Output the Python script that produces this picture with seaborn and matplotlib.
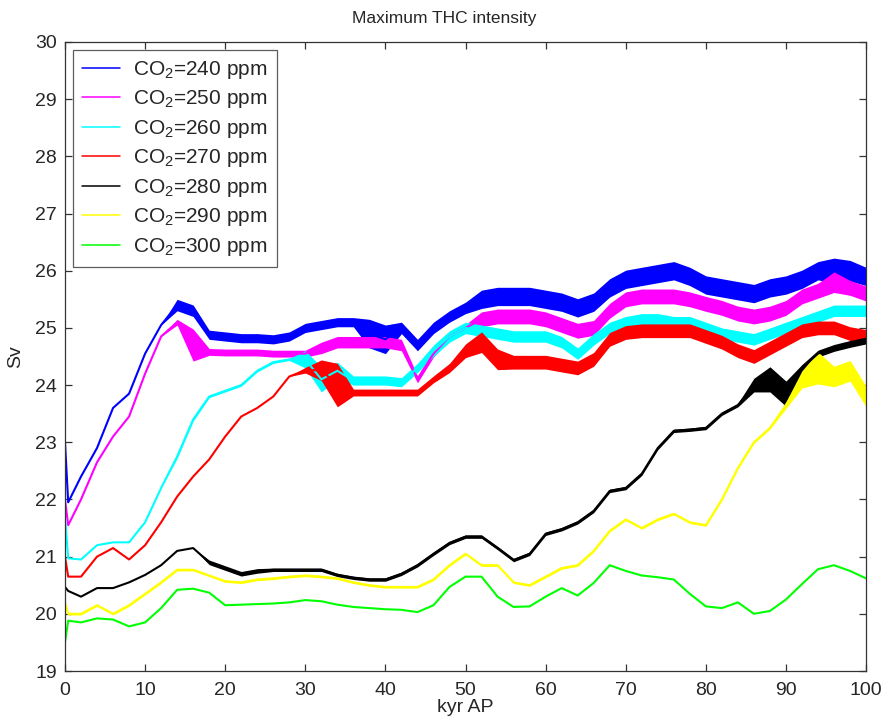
import numpy as np
import pandas as pd
import matplotlib
matplotlib.use("Agg")
import matplotlib.pyplot as plt
import seaborn as sns

# Time axis (kyr after present)
kyr = [0, 0.4] + list(range(2, 101, 2))

# Maximum THC intensity (Sv) for each CO2 level
co2_levels = [240, 250, 260, 270, 280, 290, 300]

sv_240 = [23.0, 21.95, 22.4, 22.9, 23.6, 23.85, 24.55, 25.05, 25.4, 25.3, 24.88,
          24.85, 24.82, 24.82, 24.8, 24.85, 25.0, 25.05, 25.1, 25.1, 24.9,
          24.8, 25.0, 24.7, 25.0, 25.2, 25.35, 25.5, 25.55, 25.55, 25.55,
          25.5, 25.45, 25.35, 25.45, 25.7, 25.85, 25.9, 25.95, 26.0, 25.9,
          25.75, 25.7, 25.65, 25.6, 25.7, 25.75, 25.85, 26.0, 26.0, 26.0, 25.9]
sv_250 = [22.0, 21.55, 22.0, 22.65, 23.1, 23.45, 24.2, 24.85, 25.1, 24.7, 24.58,
          24.57, 24.57, 24.57, 24.55, 24.55, 24.55, 24.65, 24.75, 24.75, 24.75,
          24.75, 24.7, 24.1, 24.55, 24.85, 25.0, 25.15, 25.2, 25.2, 25.2,
          25.15, 25.05, 24.95, 25.0, 25.3, 25.5, 25.55, 25.55, 25.55, 25.5,
          25.42, 25.35, 25.25, 25.2, 25.25, 25.35, 25.55, 25.65, 25.8, 25.7, 25.6]
sv_260 = [21.7, 20.97, 20.95, 21.2, 21.25, 21.25, 21.6, 22.2, 22.75, 23.4, 23.8,
          23.9, 24.0, 24.25, 24.4, 24.45, 24.45, 24.1, 24.25, 24.08, 24.08,
          24.08, 24.05, 24.3, 24.6, 24.85, 25.0, 24.95, 24.9, 24.85, 24.85,
          24.85, 24.75, 24.55, 24.8, 25.0, 25.1, 25.15, 25.15, 25.1, 25.1,
          25.0, 24.9, 24.85, 24.8, 24.9, 25.0, 25.1, 25.2, 25.3, 25.3, 25.3]
sv_270 = [21.0, 20.65, 20.65, 21.0, 21.15, 20.95, 21.2, 21.6, 22.05, 22.4, 22.7,
          23.1, 23.45, 23.6, 23.8, 24.15, 24.26, 24.26, 24.0, 23.87, 23.87,
          23.87, 23.87, 23.87, 24.1, 24.3, 24.6, 24.75, 24.45, 24.4, 24.4,
          24.4, 24.35, 24.3, 24.45, 24.8, 24.92, 24.95, 24.95, 24.95, 24.95,
          24.85, 24.75, 24.6, 24.5, 24.65, 24.8, 24.95, 25.0, 25.0, 24.9, 24.85]
sv_280 = [20.47, 20.4, 20.3, 20.45, 20.45, 20.55, 20.68, 20.85, 21.1, 21.15, 20.9,
          20.8, 20.7, 20.75, 20.77, 20.77, 20.77, 20.77, 20.68, 20.63, 20.6,
          20.6, 20.7, 20.85, 21.05, 21.24, 21.35, 21.35, 21.15, 20.94, 21.05,
          21.4, 21.48, 21.6, 21.8, 22.15, 22.2, 22.45, 22.9, 23.2, 23.22,
          23.25, 23.5, 23.65, 24.0, 24.1, 23.85, 24.3, 24.55, 24.65, 24.72, 24.78]
sv_290 = [20.2, 20.0, 20.0, 20.15, 20.0, 20.15, 20.35, 20.55, 20.77, 20.77, 20.67,
          20.57, 20.55, 20.6, 20.62, 20.65, 20.67, 20.65, 20.62, 20.55, 20.5,
          20.47, 20.47, 20.47, 20.6, 20.85, 21.05, 20.85, 20.85, 20.55, 20.5,
          20.65, 20.8, 20.85, 21.1, 21.45, 21.65, 21.5, 21.65, 21.75, 21.6,
          21.55, 22.0, 22.55, 23.0, 23.25, 23.65, 24.1, 24.3, 24.15, 24.25, 23.8]
sv_300 = [19.5, 19.88, 19.85, 19.92, 19.9, 19.78, 19.85, 20.1, 20.42, 20.44, 20.37,
          20.15, 20.16, 20.17, 20.18, 20.2, 20.24, 20.22, 20.16, 20.12, 20.1,
          20.08, 20.07, 20.03, 20.15, 20.47, 20.65, 20.65, 20.3, 20.12, 20.13,
          20.3, 20.45, 20.32, 20.54, 20.85, 20.75, 20.67, 20.64, 20.6, 20.35,
          20.13, 20.1, 20.2, 20.0, 20.05, 20.25, 20.52, 20.78, 20.85, 20.75, 20.62]

# Half-width of the short-term flicker around each curve (Sv)
spread_240 = [0.0] * 8 + [0.1] * 2 + [0.08] * 10 + [0.25] * 2 + [0.1] * 5 + [0.16] * 22 + [0.22, 0.18, 0.16]
spread_250 = [0.0] * 8 + [0.05, 0.28] + [0.06] * 7 + [0.1] * 6 + [0.06] * 4 + [0.13] * 22 + [0.18, 0.13, 0.13]
spread_260 = [0.0] * 8 + [0.03] * 2 + [0.02] * 6 + [0.15, 0.22, 0.15] + [0.08] * 5 + [0.1] * 28
spread_270 = [0.0] * 16 + [0.05, 0.18, 0.38] + [0.06] * 6 + [0.08, 0.12, 0.18, 0.18] + [0.12] * 23
spread_280 = [0.0] * 10 + [0.04] * 4 + [0.03] * 30 + [0.12, 0.22, 0.22] + [0.06] * 5
spread_290 = [0.02] * 46 + [0.06, 0.15, 0.28, 0.18, 0.18, 0.18]
spread_300 = [0.0] * 52

colors = ["#0000ff", "#ff00ff", "#00ffff", "#ff0000", "#000000", "#ffff00", "#00ff00"]
series = [sv_240, sv_250, sv_260, sv_270, sv_280, sv_290, sv_300]
spreads = [spread_240, spread_250, spread_260, spread_270, spread_280, spread_290, spread_300]
labels = [f"CO$_2$={c} ppm" for c in co2_levels]

df = pd.concat(
    [pd.DataFrame({"kyr": kyr, "Sv": s, "run": lab}) for s, lab in zip(series, labels)],
    ignore_index=True,
)

sns.set_theme(style="ticks")
plt.rcParams["font.family"] = ["Liberation Sans", "DejaVu Sans"]
plt.rcParams["mathtext.fontset"] = "custom"
plt.rcParams["mathtext.rm"] = "Liberation Sans"
plt.rcParams["mathtext.it"] = "Liberation Sans"

fig = plt.figure(figsize=(8.89, 7.24), dpi=100)
ax = fig.add_axes([0.0731, 0.0732, 0.9011, 0.8688])

sns.lineplot(data=df, x="kyr", y="Sv", hue="run", palette=dict(zip(labels, colors)),
             estimator=None, sort=False, linewidth=1.5, ax=ax, legend=True)

# flicker envelope around each run
for s, sp, c in zip(series, spreads, colors):
    s = np.asarray(s)
    sp = np.asarray(sp)
    ax.fill_between(kyr, s - sp, s + sp, color=c, linewidth=0, zorder=1.5)

ax.set_xlim(0, 100)
ax.set_ylim(19, 30)
ax.set_xticks(range(0, 101, 10))
ax.set_yticks(range(19, 31))
ax.tick_params(direction="in", length=5, width=0.9, labelsize=14, pad=6,
               top=True, right=True, color="#333333")
ax.tick_params(axis="x", pad=8)
for sp_ in ax.spines.values():
    sp_.set_linewidth(0.9)
    sp_.set_color("#333333")
    sp_.set_visible(True)

ax.set_xlabel("kyr AP", fontsize=14, labelpad=0)
ax.set_ylabel("Sv", fontsize=14, labelpad=8)
ax.set_title("Maximum THC intensity", fontsize=12.5, pad=14, x=0.473)

handles, labs = ax.get_legend_handles_labels()
for h in handles:
    h.set_linewidth(1.1)
leg = ax.legend(handles, labs, loc="upper left", bbox_to_anchor=(0.01, 0.988),
                fontsize=15, frameon=True, fancybox=False, edgecolor="#333333",
                handlelength=1.8, handletextpad=0.62, labelspacing=0.36,
                borderpad=0.45, borderaxespad=0)
leg.get_frame().set_linewidth(0.9)

fig.savefig("out.png", dpi=100)
